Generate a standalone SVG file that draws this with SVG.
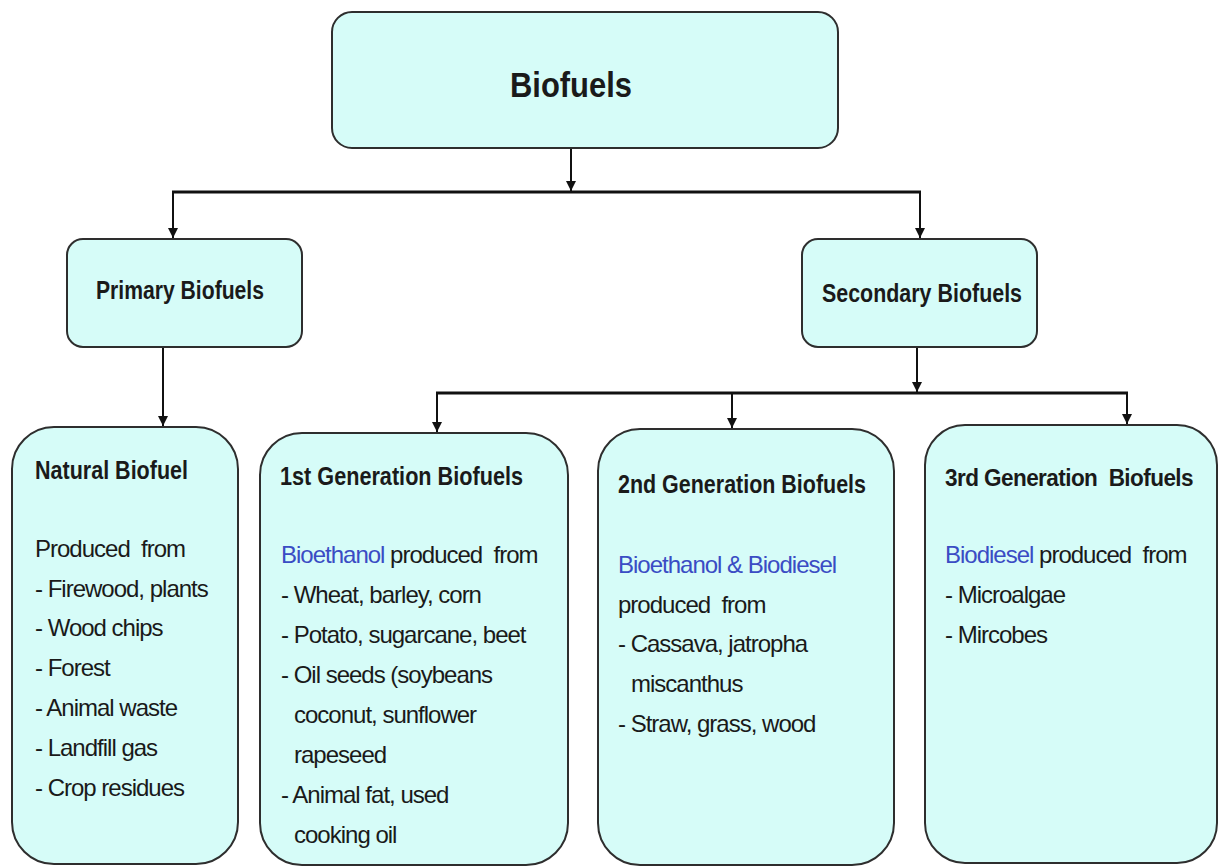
<svg xmlns="http://www.w3.org/2000/svg" width="1225" height="868" viewBox="0 0 1225 868">
<defs>
<style>
.box{fill:#d6fcf8;stroke:#2e2e2e;stroke-width:2}
.t{font-family:"Liberation Sans",Arial,sans-serif;font-size:24px;letter-spacing:-1px;fill:#1a1a1a;white-space:pre}
.h{font-family:"Liberation Sans",Arial,sans-serif;font-size:25px;font-weight:bold;fill:#1a1a1a;white-space:pre}
.h3{font-size:23.5px;letter-spacing:-0.6px}
.title{font-family:"Liberation Sans",Arial,sans-serif;font-size:35px;font-weight:bold;fill:#1a1a1a}
.blue{fill:#3a4cc4}
.bus{stroke:#111;stroke-width:3;fill:none}
.drop{stroke:#111;stroke-width:2;fill:none}
</style>
<marker id="arr" viewBox="0 0 10 10" refX="10" refY="5" markerWidth="10" markerHeight="12" markerUnits="userSpaceOnUse" orient="auto">
<path d="M0,0 L10,5 L0,10 z" fill="#111"/>
</marker>
</defs>
<rect width="1225" height="868" fill="#ffffff"/>

<g id="connectors">
<line class="drop" x1="571" y1="148" x2="571" y2="191" marker-end="url(#arr)"/>
<line class="bus" x1="172" y1="192" x2="921" y2="192"/>
<line class="drop" x1="173" y1="192" x2="173" y2="238" marker-end="url(#arr)"/>
<line class="drop" x1="920" y1="192" x2="920" y2="238" marker-end="url(#arr)"/>
<line class="drop" x1="163" y1="347" x2="163" y2="426" marker-end="url(#arr)"/>
<line class="drop" x1="917" y1="347" x2="917" y2="392" marker-end="url(#arr)"/>
<line class="bus" x1="436" y1="393" x2="1128" y2="393"/>
<line class="drop" x1="437" y1="393" x2="437" y2="432" marker-end="url(#arr)"/>
<line class="drop" x1="732" y1="393" x2="732" y2="428" marker-end="url(#arr)"/>
<line class="drop" x1="1127" y1="393" x2="1127" y2="424" marker-end="url(#arr)"/>
</g>

<g id="biofuels">
<rect class="box" x="332" y="12" width="506" height="136" rx="20"/>
<text class="title" x="571" y="97" text-anchor="middle" textLength="122" lengthAdjust="spacingAndGlyphs">Biofuels</text>
</g>

<g id="primary">
<rect class="box" x="67" y="239" width="235" height="108" rx="16"/>
<text class="h" x="96" y="299" textLength="168" lengthAdjust="spacingAndGlyphs">Primary Biofuels</text>
</g>

<g id="secondary">
<rect class="box" x="802" y="239" width="235" height="108" rx="16"/>
<text class="h" x="822" y="302" textLength="200" lengthAdjust="spacingAndGlyphs">Secondary Biofuels</text>
</g>

<g id="natural">
<rect class="box" x="12" y="427" width="226" height="437" rx="42"/>
<text class="h" x="35" y="479" textLength="153" lengthAdjust="spacingAndGlyphs">Natural Biofuel</text>
<text class="t" x="35" y="557">Produced  from</text>
<text class="t" x="35" y="597">- Firewood, plants</text>
<text class="t" x="35" y="636">- Wood chips</text>
<text class="t" x="35" y="676">- Forest</text>
<text class="t" x="35" y="716">- Animal waste</text>
<text class="t" x="35" y="756">- Landfill gas</text>
<text class="t" x="35" y="796">- Crop residues</text>
</g>

<g id="gen1">
<rect class="box" x="260" y="433" width="308" height="432" rx="42"/>
<text class="h" x="280" y="485" textLength="243" lengthAdjust="spacingAndGlyphs">1st Generation Biofuels</text>
<text class="t" x="281" y="563"><tspan class="blue">Bioethanol</tspan> produced  from</text>
<text class="t" x="281" y="603">- Wheat, barley, corn</text>
<text class="t" x="281" y="643">- Potato, sugarcane, beet</text>
<text class="t" x="281" y="683">- Oil seeds (soybeans</text>
<text class="t" x="294" y="723">coconut, sunflower</text>
<text class="t" x="294" y="763">rapeseed</text>
<text class="t" x="281" y="803">- Animal fat, used</text>
<text class="t" x="294" y="843">cooking oil</text>
</g>

<g id="gen2">
<rect class="box" x="598" y="429" width="296" height="436" rx="42"/>
<text class="h" x="618" y="493" textLength="248" lengthAdjust="spacingAndGlyphs">2nd Generation Biofuels</text>
<text class="t" x="618" y="573"><tspan class="blue">Bioethanol &amp; Biodiesel</tspan></text>
<text class="t" x="618" y="613">produced  from</text>
<text class="t" x="618" y="652">- Cassava, jatropha</text>
<text class="t" x="631" y="692">miscanthus</text>
<text class="t" x="618" y="732">- Straw, grass, wood</text>
</g>

<g id="gen3">
<rect class="box" x="925" y="425" width="292" height="438" rx="40"/>
<text class="h h3" x="945" y="486" textLength="248" lengthAdjust="spacingAndGlyphs">3rd Generation  Biofuels</text>
<text class="t" x="945" y="563"><tspan class="blue">Biodiesel</tspan> produced  from</text>
<text class="t" x="945" y="603">- Microalgae</text>
<text class="t" x="945" y="643">- Mircobes</text>
</g>
</svg>
